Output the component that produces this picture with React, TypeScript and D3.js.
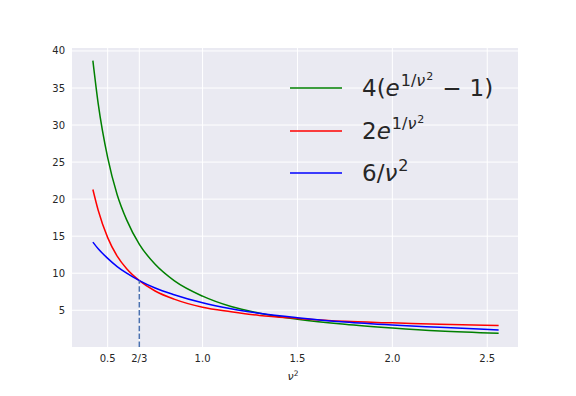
import * as d3 from "d3";

// values (x = nu^2)
const xs = [0.422, 0.45, 0.5, 0.55, 0.6, 0.667, 0.75, 0.85, 1.0, 1.15, 1.3, 1.5, 1.75, 2.0, 2.25, 2.56];
const greenVals = [38.7, 32.9, 25.6, 20.6, 17.2, 13.9, 11.2, 9.0, 6.9, 5.5, 4.6, 3.8, 3.1, 2.6, 2.2, 1.9];
const redVals = [21.3, 18.5, 14.8, 12.3, 10.6, 9.0, 7.6, 6.5, 5.4, 4.8, 4.3, 3.9, 3.5, 3.3, 3.1, 2.95];
const blueVals = [14.2, 13.3, 12.0, 10.9, 10.0, 9.0, 8.0, 7.1, 6.0, 5.2, 4.6, 4.0, 3.4, 3.0, 2.7, 2.35];

const xTicks = [0.5, 2 / 3, 1.0, 1.5, 2.0, 2.5];
const xTickLabels = ["0.5", "2/3", "1.0", "1.5", "2.0", "2.5"];
const yTicks = [5, 10, 15, 20, 25, 30, 35, 40];
const markX = 2 / 3;
const markY = 9;

const W = 576,
  H = 396;
const m = { left: 72, right: 518, top: 48, bottom: 347 };
const font = "'DejaVu Sans', sans-serif";
const textCol = "#262626";

function Sup() {
  // superscript 1/ν²
  return (
    <>
      <tspan dy={-10} dx={1} fontSize={16}>1/</tspan>
      <tspan fontSize={16} fontStyle="italic">ν</tspan>
      <tspan dy={-6} dx={1} fontSize={11}>2</tspan>
    </>
  );
}

function Legend() {
  const items = [
    { color: "green", y: 88, key: "g" },
    { color: "red", y: 131, key: "r" },
    { color: "blue", y: 173, key: "b" },
  ];
  return (
    <g>
      {items.map((d) => (
        <line key={d.key} x1={290} x2={342} y1={d.y} y2={d.y} stroke={d.color} strokeWidth={1.5} />
      ))}
      <text x={362} y={96} fontFamily={font} fontSize={23} fill={textCol}>
        4(<tspan fontStyle="italic">e</tspan>
        <Sup />
        <tspan dy={16} dx={9}>−</tspan>
        <tspan dx={8}>1)</tspan>
      </text>
      <text x={362} y={139} fontFamily={font} fontSize={23} fill={textCol}>
        2<tspan fontStyle="italic">e</tspan>
        <Sup />
      </text>
      <text x={362} y={181} fontFamily={font} fontSize={23} fill={textCol}>
        6/<tspan fontStyle="italic">ν</tspan>
        <tspan dy={-10} dx={1} fontSize={16}>2</tspan>
      </text>
    </g>
  );
}

export default function App() {
  const x = d3.scaleLinear().domain([0.312, 2.662]).range([m.left, m.right]);
  const y = d3.scaleLinear().domain([0.04, 40.4]).range([m.bottom, m.top]);

  const line = d3
    .line<number>()
    .x((_, i) => x(xs[i]))
    .y((v) => y(v))
    .curve(d3.curveMonotoneX);

  const series = [
    { vals: greenVals, color: "green" },
    { vals: redVals, color: "red" },
    { vals: blueVals, color: "blue" },
  ];

  return (
    <svg width={W} height={H} style={{ position: "absolute", left: 0, top: 0 }}>
      <rect width={W} height={H} fill="white" />
      <rect x={m.left} y={m.top} width={m.right - m.left} height={m.bottom - m.top} fill="#EAEAF2" />
      {xTicks.map((t, i) => (
        <g key={"x" + i}>
          <line x1={x(t)} x2={x(t)} y1={m.top} y2={m.bottom} stroke="white" strokeWidth={1} />
          <text x={x(t)} y={362} textAnchor="middle" fontFamily={font} fontSize={10} fill={textCol}>
            {xTickLabels[i]}
          </text>
        </g>
      ))}
      {yTicks.map((t) => (
        <g key={"y" + t}>
          <line x1={m.left} x2={m.right} y1={y(t)} y2={y(t)} stroke="white" strokeWidth={1} />
          <text x={65} y={y(t) + 3.5} textAnchor="end" fontFamily={font} fontSize={10} fill={textCol}>
            {t}
          </text>
        </g>
      ))}
      {series.map((s) => (
        <path key={s.color} d={line(s.vals) || ""} fill="none" stroke={s.color} strokeWidth={1.5} />
      ))}
      <line
        x1={x(markX)}
        x2={x(markX)}
        y1={m.bottom}
        y2={y(markY)}
        stroke="#4c72b0"
        strokeWidth={1.5}
        strokeDasharray="5.5,2.4"
      />
      <text x={293} y={380} textAnchor="middle" fontFamily={font} fontSize={11} fill={textCol}>
        <tspan fontStyle="italic">ν</tspan>
        <tspan dy={-4} fontSize={7.5}>2</tspan>
      </text>
      <Legend />
    </svg>
  );
}
